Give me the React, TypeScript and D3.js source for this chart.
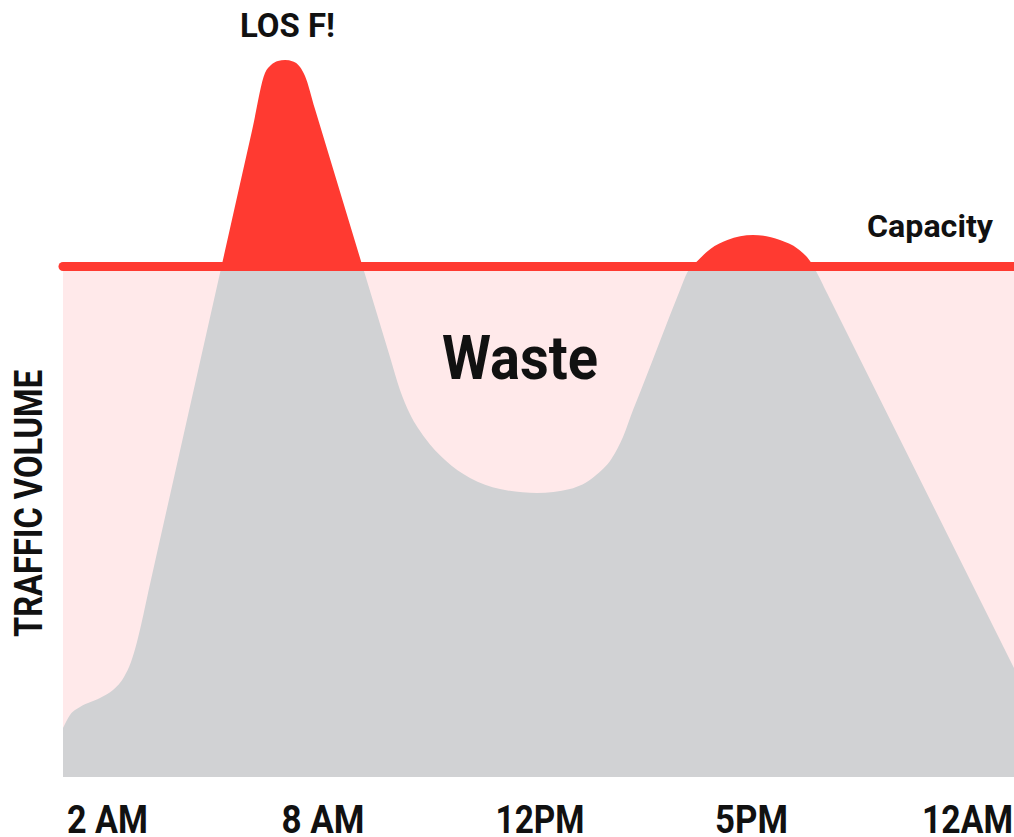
import React from "react";
import * as d3 from "d3";

// Tick labels and their hour positions
const tickLabels = ["2 AM", "8 AM", "12PM", "5PM", "12AM"];
const tickHours = [2, 8, 12, 17, 24];

// Traffic volume curve (hour of day, volume where 100 = capacity)
const hours = [
  0.761, 0.956, 1.234, 1.791, 2.153, 2.459, 2.654, 2.821, 3.183, 6.023, 6.385, 6.552, 6.747,
  6.942, 7.165, 7.36, 7.499, 7.777, 9.235, 9.419, 9.603, 9.88, 10.249, 10.71, 11.263, 11.945,
  12.709, 13.3, 13.702, 13.962, 14.199, 14.388, 15.31, 15.475, 15.721, 16.028, 16.43, 17.049,
  17.924, 18.507, 18.896, 19.123, 19.447, 25.183, 25.507,
];
const volumes = [
  9.6, 12.15, 13.71, 15.48, 17.04, 19.59, 22.53, 26.44, 37.77, 126.58, 137.9, 139.47, 140.25,
  140.45, 140.16, 139.08, 137.32, 130.85, 82.27, 75.81, 71.11, 66.41, 62.1, 58.57, 56.41, 55.63,
  56.41, 58.96, 62.49, 66.6, 71.89, 75.81, 95.4, 98.73, 101.08, 103.43, 105.19, 106.17, 105.19,
  103.43, 101.08, 98.73, 94.81, 25.27, 21.35,
];
const capacity = 100;

const W = 1014;
const H = 837;

export default function App() {
  const x = d3
    .scaleLinear()
    .domain(tickHours)
    .range([107.5, 323, 540, 751.5, 967.5]);
  const y = d3.scaleLinear().domain([0, 100]).range([777, 266.5]);

  const data = hours.map((h, i) => ({ h, v: volumes[i] }));
  const area = d3
    .area<{ h: number; v: number }>()
    .x((d) => x(d.h))
    .y0(y(0))
    .y1((d) => y(d.v))
    .curve(d3.curveMonotoneX);
  const path = area(data) || "";

  const plotLeft = x(hours[0]);
  const capY = y(capacity);
  const red = "#ff3a31";
  const grey = "#d1d2d4";
  const pink = "#ffe9ea";
  const font = "Roboto, 'DejaVu Sans', sans-serif";

  return (
    <svg
      width={W}
      height={H}
      style={{ position: "absolute", left: 0, top: 0, background: "#fff" }}
    >
      <defs>
        <clipPath id="below">
          <rect x={0} y={capY} width={W} height={H - capY} />
        </clipPath>
        <clipPath id="above">
          <rect x={0} y={0} width={W} height={capY} />
        </clipPath>
      </defs>
      <rect x={plotLeft} y={capY} width={W - plotLeft} height={y(0) - capY} fill={pink} />
      <path d={path} fill={grey} clipPath="url(#below)" />
      <path d={path} fill={red} clipPath="url(#above)" />
      <line
        x1={plotLeft}
        x2={W + 10}
        y1={capY}
        y2={capY}
        stroke={red}
        strokeWidth={9}
        strokeLinecap="round"
      />
      <text
        x={287.5}
        y={36.5}
        textAnchor="middle"
        fontFamily={font}
        fontWeight={700}
        fontSize={34}
        textLength={95}
        lengthAdjust="spacingAndGlyphs"
        fill="#111"
      >
        LOS F!
      </text>
      <text
        x={930}
        y={237}
        textAnchor="middle"
        fontFamily={font}
        fontWeight={700}
        fontSize={31}
        textLength={126}
        lengthAdjust="spacingAndGlyphs"
        fill="#111"
      >
        Capacity
      </text>
      <text
        x={520}
        y={379}
        textAnchor="middle"
        fontFamily={font}
        fontWeight={700}
        fontSize={62}
        textLength={156}
        lengthAdjust="spacingAndGlyphs"
        fill="#111"
      >
        Waste
      </text>
      <text
        transform={`translate(42,503.5) rotate(-90)`}
        textAnchor="middle"
        fontFamily={font}
        fontWeight={700}
        fontSize={39}
        textLength={267}
        lengthAdjust="spacingAndGlyphs"
        fill="#111"
      >
        TRAFFIC VOLUME
      </text>
      {tickLabels.map((t, i) => {
        const widths = [81, 83, 89, 73, 91];
        return (
          <text
            key={t}
            x={x(tickHours[i])}
            y={833}
            textAnchor="middle"
            fontFamily={font}
            fontWeight={700}
            fontSize={39}
            textLength={widths[i]}
            lengthAdjust="spacingAndGlyphs"
            fill="#111"
          >
            {t}
          </text>
        );
      })}
    </svg>
  );
}
